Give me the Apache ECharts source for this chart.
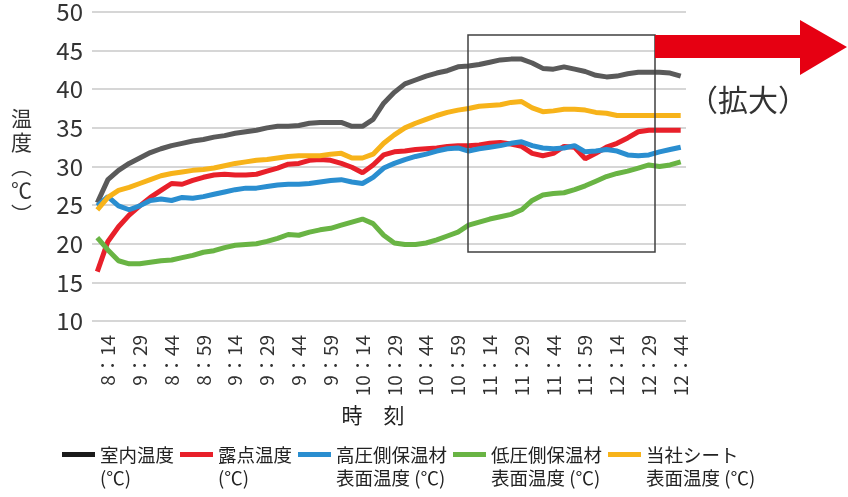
<!DOCTYPE html>
<html>
<head>
<meta charset="utf-8">
<title>温度推移</title>
<style>
html,body{margin:0;padding:0;background:#fff;}
#chart{width:848px;height:497px;}
</style>
<script src="https://cdn.jsdelivr.net/npm/echarts@6/dist/echarts.min.js"></script>
</head>
<body>
<div id="chart"></div>
<script>
(function(){
	"use strict";

	// 目盛ラベル（元図の表記のまま）
	var tickLabels = ['8：14','9：29','8：44','8：59','9：14','9：29','9：44','9：59','10：14','10：29','10：44','10：59','11：14','11：29','11：44','11：59','12：14','12：29','12：44'];

	// 5分ごとのサンプル点（先頭は 8:14 の一つ前）
	var categories = [];
	for (var i = 0; i < 56; i++) categories.push('p' + i);

	var roomTemp = [25.3,28.3,29.5,30.4,31.1,31.8,32.3,32.7,33.0,33.3,33.5,33.8,34.0,34.3,34.5,34.7,35.0,35.2,35.2,35.3,35.6,35.7,35.7,35.7,35.2,35.2,36.1,38.2,39.6,40.7,41.2,41.7,42.1,42.4,42.9,43.0,43.2,43.5,43.8,43.9,43.9,43.4,42.7,42.6,42.9,42.6,42.3,41.8,41.6,41.7,42.0,42.2,42.2,42.2,42.1,41.7];
	var dewPoint = [16.4,20.3,22.2,23.7,24.9,26.0,26.9,27.8,27.7,28.2,28.6,28.9,29.0,28.9,28.9,29.0,29.4,29.8,30.3,30.4,30.8,30.9,30.8,30.4,29.9,29.2,30.2,31.5,31.9,32.0,32.2,32.3,32.4,32.6,32.7,32.7,32.8,33.0,33.1,32.9,32.6,31.7,31.4,31.7,32.6,32.5,31.0,31.7,32.5,33.0,33.7,34.5,34.7,34.7,34.7,34.7];
	var highSide = [24.9,26.1,24.9,24.4,24.9,25.6,25.8,25.6,26.0,25.9,26.1,26.4,26.7,27.0,27.2,27.2,27.4,27.6,27.7,27.7,27.8,28.0,28.2,28.3,28.0,27.8,28.6,29.8,30.4,30.9,31.3,31.6,32.0,32.3,32.4,32.0,32.3,32.5,32.7,33.0,33.2,32.7,32.4,32.3,32.4,32.7,31.9,32.0,32.2,32.0,31.5,31.4,31.5,31.9,32.2,32.5];
	var lowSide = [20.8,19.2,17.8,17.4,17.4,17.6,17.8,17.9,18.2,18.5,18.9,19.1,19.5,19.8,19.9,20.0,20.3,20.7,21.2,21.1,21.5,21.8,22.0,22.4,22.8,23.2,22.6,21.1,20.1,19.9,19.9,20.1,20.5,21.0,21.5,22.4,22.8,23.2,23.5,23.8,24.4,25.6,26.3,26.5,26.6,27.0,27.5,28.1,28.7,29.1,29.4,29.8,30.2,30.0,30.2,30.6];
	var sheetTemp = [24.4,26.0,26.9,27.3,27.8,28.3,28.8,29.1,29.3,29.5,29.6,29.8,30.1,30.4,30.6,30.8,30.9,31.1,31.3,31.4,31.4,31.4,31.6,31.7,31.1,31.1,31.6,33.0,34.1,35.0,35.6,36.1,36.6,37.0,37.3,37.5,37.8,37.9,38.0,38.3,38.4,37.6,37.1,37.2,37.4,37.4,37.3,37.0,36.9,36.6,36.6,36.6,36.6,36.6,36.6,36.6];

	var seriesNames = ['室内温度\n(℃)','露点温度\n(℃)','高圧側保温材\n表面温度 (℃)','低圧側保温材\n表面温度 (℃)','当社シート\n表面温度 (℃)'];
	var seriesData = [roomTemp, dewPoint, highSide, lowSide, sheetTemp];
	var colors = ['#5a5a5a','#e8202a','#2a8ed0','#69b444','#f7b31a'];

	var FONT = '"Noto Sans CJK JP", "Noto Sans", sans-serif';
	// 凡例の線：2行テキストの1行目に揃えるため上寄せのバー
	var LEGEND_BAR = 'path://M0,0H34V4H0Z M0,22H0.01';

	var chart = echarts.init(document.getElementById('chart'));

	var series = seriesData.map(function(d, k){
		return {
			name: seriesNames[k],
			type: 'line',
			data: d,
			symbol: 'none',
			lineStyle: { width: 5, color: colors[k] },
			itemStyle: { color: colors[k] },
			animation: false
		};
	});

	chart.setOption({
		backgroundColor: '#fff',
		textStyle: { fontFamily: FONT },
		grid: { left: 92, right: 162, top: 7, bottom: 176 },
		xAxis: {
			type: 'category',
			data: categories,
			boundaryGap: true,
			axisLine: { show: false },
			axisTick: { show: false },
			axisLabel: {
				interval: 0,
				rotate: 90,
				margin: 14,
				fontSize: 19,
				color: '#333',
				fontFamily: FONT,
				formatter: function(v, i){
					return (i - 1) % 3 === 0 ? tickLabels[(i - 1) / 3] : '';
				}
			},
			name: '時　刻',
			nameLocation: 'middle',
			nameGap: 78,
			nameTextStyle: { fontSize: 21, color: '#222', fontFamily: FONT, padding: [0, 32, 0, 0] }
		},
		yAxis: {
			type: 'value',
			min: 10,
			max: 50,
			interval: 5,
			axisLine: { show: false },
			axisTick: { show: false },
			axisLabel: { fontSize: 24, color: '#333', margin: 9, fontFamily: FONT },
			splitLine: { lineStyle: { color: '#d6d6d6', width: 2 } },
			name: '温\n度\n︵\n℃\n︶',
			nameLocation: 'middle',
			nameRotate: 0,
			nameGap: 60,
			nameTextStyle: { fontSize: 21, lineHeight: 24, color: '#333', fontFamily: FONT, padding: [26, 0, 0, 0] }
		},
		legend: {
			left: 62,
			top: 443,
			padding: 0,
			icon: LEGEND_BAR,
			symbolKeepAspect: false,
			itemWidth: 33,
			itemHeight: 28,
			itemGap: 6,
			textStyle: { fontSize: 18.5, lineHeight: 23, color: '#222', fontFamily: FONT },
			data: seriesNames.map(function(n, k){
				return k === 0 ? { name: n, itemStyle: { color: '#1a1a1a' } } : { name: n };
			})
		},
		graphic: [
			{ type: 'rect', shape: { x: 468, y: 35, width: 187, height: 217 }, style: { fill: 'none', stroke: '#404040', lineWidth: 1.5 }, z: 10 },
			{ type: 'polygon', shape: { points: [[655,35],[800,35],[800,20],[847,47],[800,75],[800,58],[655,58]] }, style: { fill: '#e60012' }, z: 10 },
			{ type: 'text', x: 748, y: 100, style: { text: '（拡大）', fontSize: 30, fontFamily: FONT, fill: '#333', align: 'center', verticalAlign: 'middle' }, z: 10 }
		],
		series: series
	});
})();
</script>
</body>
</html>
